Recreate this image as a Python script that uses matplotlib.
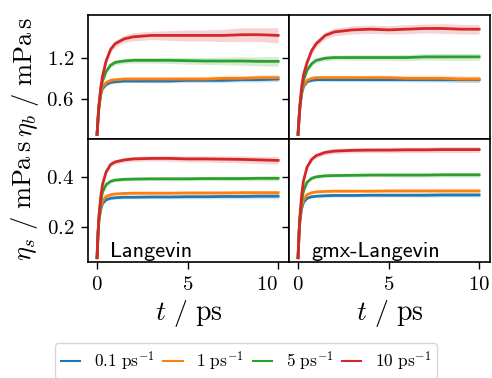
#! /usr/bin/env python3

import matplotlib
matplotlib.use("Agg")
import matplotlib.pyplot as plt
import numpy as np

plt.rcParams["font.family"] = ["cmr10", "DejaVu Sans"]
plt.rcParams["mathtext.fontset"] = "cm"
plt.rcParams["axes.unicode_minus"] = False
plt.rcParams["axes.formatter.use_mathtext"] = True

t = [0, 0.05, 0.1, 0.2, 0.3, 0.5, 0.75, 1, 1.5, 2, 3, 4, 5, 6, 7, 8, 9, 10]

labels = [r"$0.1\ \mathrm{ps}^{-1}$", r"$1\ \mathrm{ps}^{-1}$",
          r"$5\ \mathrm{ps}^{-1}$", r"$10\ \mathrm{ps}^{-1}$"]
colors = ["#1f77b4", "#ff7f0e", "#2ca02c", "#d62728"]

# eta_b, Langevin
b_lang = [
    [0.09, 0.30, 0.47, 0.66, 0.75, 0.81, 0.84, 0.85, 0.86, 0.86, 0.86, 0.86, 0.87, 0.87, 0.87, 0.88, 0.88, 0.89],
    [0.09, 0.30, 0.47, 0.67, 0.77, 0.84, 0.87, 0.88, 0.89, 0.89, 0.89, 0.89, 0.89, 0.89, 0.90, 0.90, 0.91, 0.91],
    [0.09, 0.30, 0.48, 0.72, 0.86, 1.00, 1.09, 1.13, 1.15, 1.16, 1.16, 1.16, 1.155, 1.15, 1.15, 1.15, 1.145, 1.145],
    [0.09, 0.30, 0.50, 0.76, 0.93, 1.15, 1.32, 1.40, 1.47, 1.50, 1.52, 1.52, 1.52, 1.52, 1.52, 1.53, 1.53, 1.52],
]
b_lang_err = [
    [0.01, 0.01, 0.01, 0.015, 0.02, 0.02, 0.02, 0.02, 0.02, 0.02, 0.025, 0.025, 0.03, 0.03, 0.03, 0.035, 0.035, 0.035],
    [0.01, 0.01, 0.015, 0.02, 0.02, 0.02, 0.025, 0.025, 0.025, 0.03, 0.03, 0.03, 0.035, 0.035, 0.04, 0.04, 0.04, 0.045],
    [0.01, 0.01, 0.02, 0.02, 0.025, 0.03, 0.03, 0.035, 0.035, 0.04, 0.04, 0.045, 0.05, 0.05, 0.055, 0.06, 0.065, 0.07],
    [0.02, 0.02, 0.03, 0.03, 0.04, 0.04, 0.05, 0.05, 0.05, 0.06, 0.06, 0.07, 0.08, 0.08, 0.09, 0.10, 0.10, 0.11],
]

# eta_b, gmx-Langevin
b_gmx = [
    [0.09, 0.30, 0.48, 0.68, 0.78, 0.85, 0.87, 0.88, 0.88, 0.88, 0.88, 0.88, 0.88, 0.88, 0.88, 0.88, 0.88, 0.88],
    [0.09, 0.30, 0.48, 0.69, 0.80, 0.87, 0.90, 0.91, 0.91, 0.91, 0.91, 0.91, 0.91, 0.90, 0.90, 0.90, 0.89, 0.89],
    [0.09, 0.30, 0.48, 0.72, 0.87, 1.02, 1.11, 1.16, 1.19, 1.20, 1.20, 1.20, 1.20, 1.20, 1.21, 1.21, 1.21, 1.21],
    [0.09, 0.30, 0.50, 0.78, 0.95, 1.13, 1.30, 1.40, 1.52, 1.57, 1.60, 1.61, 1.60, 1.61, 1.62, 1.62, 1.61, 1.61],
]
b_gmx_err = [
    [0.01, 0.01, 0.01, 0.015, 0.02, 0.02, 0.02, 0.02, 0.02, 0.025, 0.025, 0.03, 0.03, 0.03, 0.035, 0.035, 0.04, 0.04],
    [0.01, 0.01, 0.015, 0.02, 0.02, 0.025, 0.025, 0.025, 0.03, 0.03, 0.03, 0.035, 0.035, 0.04, 0.04, 0.045, 0.045, 0.05],
    [0.01, 0.01, 0.02, 0.02, 0.025, 0.03, 0.03, 0.035, 0.035, 0.035, 0.04, 0.04, 0.04, 0.045, 0.045, 0.05, 0.05, 0.05],
    [0.02, 0.02, 0.03, 0.03, 0.04, 0.04, 0.05, 0.05, 0.05, 0.055, 0.06, 0.06, 0.06, 0.065, 0.065, 0.07, 0.07, 0.07],
]

# eta_s, Langevin
s_lang = [
    [0.08, 0.17, 0.225, 0.27, 0.295, 0.31, 0.316, 0.318, 0.32, 0.32, 0.321, 0.321, 0.322, 0.322, 0.323, 0.323, 0.324, 0.324],
    [0.08, 0.17, 0.23, 0.28, 0.305, 0.323, 0.33, 0.333, 0.335, 0.336, 0.336, 0.336, 0.337, 0.337, 0.337, 0.338, 0.338, 0.338],
    [0.08, 0.17, 0.235, 0.30, 0.34, 0.37, 0.383, 0.388, 0.391, 0.392, 0.393, 0.393, 0.393, 0.394, 0.394, 0.394, 0.395, 0.395],
    [0.08, 0.17, 0.24, 0.32, 0.37, 0.42, 0.45, 0.46, 0.468, 0.472, 0.474, 0.474, 0.472, 0.472, 0.471, 0.47, 0.468, 0.466],
]
s_lang_err = [
    [0.003, 0.003, 0.004, 0.004, 0.005, 0.005, 0.005, 0.006, 0.006, 0.006, 0.007, 0.007, 0.008, 0.008, 0.009, 0.009, 0.01, 0.01],
    [0.003, 0.003, 0.004, 0.004, 0.005, 0.005, 0.005, 0.005, 0.006, 0.006, 0.006, 0.006, 0.007, 0.007, 0.007, 0.008, 0.008, 0.008],
    [0.004, 0.004, 0.005, 0.005, 0.005, 0.006, 0.006, 0.006, 0.007, 0.007, 0.007, 0.008, 0.008, 0.008, 0.009, 0.009, 0.01, 0.01],
    [0.005, 0.005, 0.006, 0.006, 0.007, 0.008, 0.008, 0.009, 0.009, 0.01, 0.01, 0.011, 0.012, 0.012, 0.013, 0.014, 0.014, 0.015],
]

# eta_s, gmx-Langevin
s_gmx = [
    [0.08, 0.17, 0.225, 0.275, 0.30, 0.316, 0.322, 0.324, 0.326, 0.327, 0.327, 0.328, 0.328, 0.328, 0.328, 0.329, 0.329, 0.329],
    [0.08, 0.17, 0.23, 0.285, 0.31, 0.33, 0.338, 0.341, 0.343, 0.344, 0.344, 0.344, 0.345, 0.345, 0.345, 0.345, 0.345, 0.345],
    [0.08, 0.17, 0.235, 0.305, 0.345, 0.38, 0.395, 0.401, 0.405, 0.406, 0.407, 0.408, 0.408, 0.408, 0.408, 0.409, 0.409, 0.409],
    [0.08, 0.17, 0.24, 0.33, 0.385, 0.44, 0.47, 0.485, 0.498, 0.503, 0.506, 0.507, 0.507, 0.508, 0.508, 0.509, 0.509, 0.509],
]
s_gmx_err = [
    [0.003, 0.003, 0.004, 0.004, 0.005, 0.005, 0.005, 0.006, 0.006, 0.006, 0.006, 0.007, 0.007, 0.007, 0.008, 0.008, 0.008, 0.008],
    [0.003, 0.003, 0.004, 0.004, 0.005, 0.005, 0.005, 0.005, 0.006, 0.006, 0.006, 0.006, 0.007, 0.007, 0.007, 0.008, 0.008, 0.008],
    [0.004, 0.004, 0.005, 0.005, 0.005, 0.006, 0.006, 0.006, 0.007, 0.007, 0.007, 0.007, 0.008, 0.008, 0.008, 0.008, 0.009, 0.009],
    [0.005, 0.005, 0.006, 0.006, 0.007, 0.008, 0.008, 0.009, 0.009, 0.01, 0.01, 0.01, 0.011, 0.011, 0.011, 0.012, 0.012, 0.012],
]


def draw(ax, series, errors):
    x = np.array(t)
    for y, e, c, lab in zip(series, errors, colors, labels):
        y = np.array(y)
        e = np.array(e)
        ax.fill_between(x, y - e, y + e, color=c, alpha=0.2, lw=0)
        ax.plot(x, y, color=c, lw=2.0, label=lab)


def main():
    fig, axes = plt.subplots(2, 2, figsize=(4.92, 3.78), dpi=100,
                             sharex=True, sharey="row")
    fig.subplots_adjust(left=88 / 492, right=490 / 492, top=1 - 15 / 378,
                        bottom=1 - 262 / 378, wspace=0, hspace=0)

    draw(axes[0, 0], b_lang, b_lang_err)
    draw(axes[0, 1], b_gmx, b_gmx_err)
    draw(axes[1, 0], s_lang, s_lang_err)
    draw(axes[1, 1], s_gmx, s_gmx_err)

    for ax in axes.flat:
        ax.set_xlim(-0.5, 10.6)
        ax.set_xticks([0, 5, 10])
        ax.tick_params(direction="out", length=5, width=1.0, labelsize=15,
                       pad=5)
        for sp in ax.spines.values():
            sp.set_linewidth(1.2)
    for ax in axes[0]:
        ax.tick_params(bottom=False)
    for ax in axes[:, 1]:
        ax.tick_params(labelleft=False)

    axes[0, 0].set_ylim(0.03, 1.815)
    axes[0, 0].set_yticks([0.6, 1.2])
    axes[1, 0].set_ylim(0.063, 0.553)
    axes[1, 0].set_yticks([0.2, 0.4])

    axes[0, 0].set_ylabel(r"$\eta_b\ /\ \mathrm{mPa\,s}$", fontsize=19,
                          labelpad=4)
    axes[1, 0].set_ylabel(r"$\eta_s\ /\ \mathrm{mPa\,s}$", fontsize=19,
                          labelpad=4)
    for ax in axes[1]:
        ax.set_xlabel(r"$t\ /\ \mathrm{ps}$", fontsize=20, labelpad=3)

    # last label on the left panel is pushed left so it clears the next "0"
    fig.canvas.draw()
    axes[1, 0].xaxis.get_major_ticks()[-1].label1.set_ha("right")

    axes[1, 0].text(0.11, 0.04, "Langevin", transform=axes[1, 0].transAxes,
                    fontsize=16, family="cmss10")
    axes[1, 1].text(0.11, 0.04, "gmx-Langevin", transform=axes[1, 1].transAxes,
                    fontsize=16, family="cmss10")

    handles, labs = axes[0, 0].get_legend_handles_labels()
    leg = fig.legend(handles, labs, loc="lower center",
                     bbox_to_anchor=(0.5, -0.025), ncol=4, fontsize=12.5,
                     handlelength=1.1, columnspacing=0.5,
                     handletextpad=0.8, borderpad=0.35)
    for h in leg.get_lines():
        h.set_linewidth(1.5)

    fig.savefig("out.png", dpi=100)


if __name__ == "__main__":
    main()
